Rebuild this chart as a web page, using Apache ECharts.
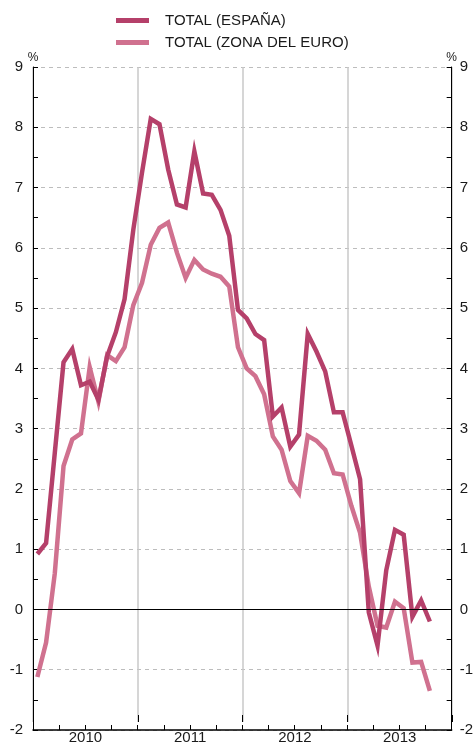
<!DOCTYPE html>
<html>
<head>
<meta charset="utf-8">
<script src="https://cdn.jsdelivr.net/npm/echarts@6/dist/echarts.min.js"></script>
<style>
html,body{margin:0;padding:0;background:#fff;}
#chart{width:476px;height:745px;}
</style>
</head>
<body>
<div id="chart"></div>
<script>
// Monthly categories Jan 2010 – Dec 2013
var years = ['2010', '2011', '2012', '2013'];
var months = [];
years.forEach(function (y) { for (var m = 1; m <= 12; m++) months.push(y + '-' + (m < 10 ? '0' + m : m)); });

var seriesNames = ['TOTAL (ESPAÑA)', 'TOTAL (ZONA DEL EURO)'];

var espana = [0.92, 1.1, 2.6, 4.1, 4.32, 3.72, 3.78, 3.48, 4.2, 4.6, 5.15, 6.3,
  7.25, 8.14, 8.05, 7.3, 6.72, 6.67, 7.6, 6.9, 6.88, 6.63, 6.2, 4.97,
  4.83, 4.57, 4.47, 3.2, 3.35, 2.7, 2.9, 4.57, 4.28, 3.95, 3.27, 3.27,
  2.72, 2.16, -0.05, -0.6, 0.65, 1.32, 1.24, -0.12, 0.15, -0.2];

var zonaEuro = [-1.12, -0.55, 0.6, 2.38, 2.82, 2.92, 4.02, 3.45, 4.22, 4.12, 4.35, 5.05,
  5.42, 6.05, 6.33, 6.42, 5.92, 5.5, 5.8, 5.64, 5.57, 5.52, 5.36, 4.35,
  4.0, 3.87, 3.57, 2.87, 2.65, 2.13, 1.93, 2.88, 2.8, 2.65, 2.26, 2.24,
  1.72, 1.27, 0.38, -0.27, -0.3, 0.13, 0.02, -0.88, -0.87, -1.35];

var yTicks = { min: -2, max: 9, interval: 1 };

var FONT = '"Liberation Sans", Arial, Helvetica, sans-serif';
var TXT = '#1a1a1a';
var C1 = '#b5406a';
var C2 = '#d0718f';

var grid = { left: 33, right: 24, top: 67, bottom: 15 };

function yAxisDef(pos) {
  return {
    type: 'value', gridIndex: 0, position: pos,
    min: yTicks.min, max: yTicks.max, interval: yTicks.interval,
    name: '%', nameLocation: 'end', nameGap: 3, nameMoveOverlap: false,
    nameTextStyle: { fontSize: 12, color: TXT, fontFamily: FONT, align: 'center', verticalAlign: 'bottom' },
    axisLine: { show: true, lineStyle: { color: '#000', width: 1 } },
    axisTick: { show: true, inside: true, length: 5, lineStyle: { color: '#000' } },
    minorTick: { show: true, splitNumber: 2, length: 5, lineStyle: { color: '#000' } },
    axisLabel: { fontSize: 15, color: TXT, fontFamily: FONT, margin: pos === 'left' ? 10 : 8 },
    splitLine: { show: pos === 'left', lineStyle: { color: '#bdbdbd', type: [4, 4], width: 1 } }
  };
}

var option = {
  animation: false,
  backgroundColor: '#fff',
  legend: {
    orient: 'vertical', left: 116, top: 13, itemGap: 7, padding: 0,
    itemWidth: 33, itemHeight: 5, icon: 'rect',
    textStyle: { fontSize: 15, color: TXT, fontFamily: FONT, padding: [0, 0, 0, 11] },
    data: seriesNames
  },
  grid: [grid, grid],
  xAxis: [
    {
      type: 'category', gridIndex: 0, data: months, boundaryGap: true, position: 'bottom',
      axisLine: { show: true, onZero: false, lineStyle: { color: '#000', width: 1.5 } },
      axisTick: { show: true, inside: true, length: 5, interval: 2, lineStyle: { color: '#000' } },
      axisLabel: { show: false },
      splitLine: { show: false }
    },
    {
      type: 'category', gridIndex: 1, data: years, boundaryGap: true, position: 'bottom',
      axisLine: { show: false, onZero: false },
      axisTick: { show: true, inside: true, length: 7, lineStyle: { color: '#000' } },
      axisLabel: { show: true, fontSize: 15, color: TXT, fontFamily: FONT, margin: 8 },
      splitLine: { show: true, lineStyle: { color: '#c8c8c8', width: 1.5 } }
    }
  ],
  yAxis: [
    yAxisDef('left'),
    yAxisDef('right'),
    { type: 'value', gridIndex: 1, min: 0, max: 1, show: false }
  ],
  series: [
    {
      name: seriesNames[0], type: 'line', xAxisIndex: 0, yAxisIndex: 0,
      data: espana, symbol: 'none', z: 4,
      lineStyle: { color: C1, width: 4.5, join: 'miter' }, itemStyle: { color: C1 }
    },
    {
      name: seriesNames[1], type: 'line', xAxisIndex: 0, yAxisIndex: 0,
      data: zonaEuro, symbol: 'none', z: 3,
      lineStyle: { color: C2, width: 4.5, join: 'miter' }, itemStyle: { color: C2 },
      markLine: {
        silent: true, symbol: 'none', label: { show: false },
        lineStyle: { color: '#000', type: 'solid', width: 1 },
        data: [{ yAxis: 0 }], z: 5
      }
    }
  ]
};

var chart = echarts.init(document.getElementById('chart'), null, { renderer: 'canvas' });
chart.setOption(option);
</script>
</body>
</html>
